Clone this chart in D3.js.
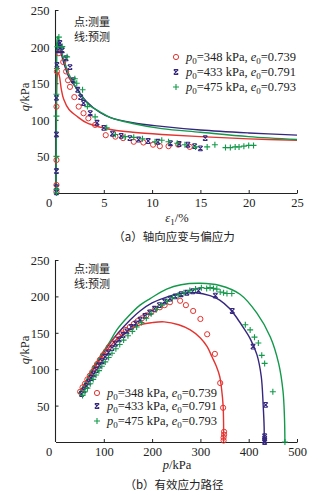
<!DOCTYPE html>
<html>
<head>
<meta charset="utf-8">
<script src="https://cdn.jsdelivr.net/npm/d3@7"></script>
<style>
  body { margin: 0; background: #fff; }
  text { font-family: "Liberation Serif", "DejaVu Serif", serif; }
  .cjk { font-family: "Noto Sans CJK SC", sans-serif; }
</style>
</head>
<body>
<script>
// series names / legend
const seriesKeys = ['s348', 's433', 's475'];
const p0Labels = ['348', '433', '475'];
const e0Labels = ['0.739', '0.791', '0.793'];
const colors = { s348: '#e5332f', s433: '#35267e', s475: '#12994a' };

// (a) axial strain eps1 (%) vs deviator stress q (kPa) -- predicted curves
const predA348 = [[0.05,0],[0.08,60],[0.1,120],[0.15,155],[0.25,165],[0.4,160],[0.6,142],[0.85,128],[1.4,114],[2.3,104],[3.2,96],[4.6,90],[6,86],[8,83],[11,80],[15,77],[20,74],[25,72]];
const predA433 = [[0.05,0],[0.08,80],[0.1,160],[0.15,200],[0.25,206],[0.5,195],[0.85,178],[1.4,158],[2.3,141],[3.2,125],[4.6,110],[5.7,103],[8,96],[11,91],[15,86],[20,82],[25,79]];
const predA475 = [[0.05,0],[0.08,80],[0.1,165],[0.15,208],[0.25,214],[0.5,200],[0.85,183],[1.4,162],[2.6,134],[3.5,120],[4.6,111],[5.7,103],[8,95],[11,88],[15,83],[20,77],[25,73]];

// (a) measured
const measA348 = [[0.1,2],[0.1,11],[0.1,45],[0.1,118],[0.15,166],[0.35,191],[0.8,179],[1.1,166],[1.3,154],[1.5,145],[1.95,131],[2.4,118],[2.9,109],[3.4,102],[4.1,93],[5.2,79],[6.2,77],[7.0,75],[8.1,70],[9.1,69],[10.1,66],[10.8,64],[11.7,64],[12.7,66],[13.9,63]];
const measA433 = [[0.1,1],[0.1,8],[0.1,30],[0.1,80],[0.1,130],[0.15,175],[0.25,195],[0.45,205],[0.7,195],[1.1,184],[1.5,172],[1.85,154],[2.3,141],[2.6,131],[2.9,123],[3.6,109],[4.3,96],[5.0,89],[5.9,81],[6.8,78],[7.7,75],[8.6,73],[9.6,71],[10.6,70],[11.9,68],[12.8,67],[13.7,66],[14.4,64],[15.0,61],[15.5,75]];
const measA475 = [[0.1,0],[0.1,5],[0.1,50],[0.1,105],[0.1,135],[0.15,170],[0.2,200],[0.35,213],[0.7,200],[1.2,186],[2.0,156],[2.2,150],[2.8,141],[3.3,118],[4.1,104],[5.3,89],[6.2,80],[7.2,77],[8.1,76],[9.0,74],[10.3,70],[11.0,72],[11.7,70],[12.6,68],[13.4,66],[14.5,63],[15.7,63],[16.5,66],[17.6,62],[18.1,62],[18.6,63],[19.0,63],[19.5,64],[20.0,65],[20.5,65]];

// (b) effective stress path p (kPa) vs q (kPa) -- predicted curves
const predB348 = [[48,66],[60,78],[70,90],[85,106],[100,120],[115,133],[130,143],[154,154],[175,161],[200,164],[225,165],[255,161],[279,154],[300,143],[314,131],[324,117],[333,104],[340,90],[344,72],[347,50],[348,25],[348,0]];
const predB433 = [[48,66],[60,79],[75,97],[90,113],[110,133],[130,150],[155,168],[175,180],[200,191],[230,199],[260,204],[290,205],[320,201],[340,195],[361,183],[376,170],[390,156],[403,142],[417,120],[426,90],[430,50],[432,20],[432,0]];
const predB475 = [[48,66],[60,80],[75,99],[92,117],[110,135],[127,154],[150,172],[175,188],[196,197],[230,210],[260,216],[300,218],[340,215],[382,203],[417,177],[445,144],[462,108],[471,70],[474,35],[475,0]];

// (b) measured
const measB348 = [[51,69],[56,75],[61,80],[66,86],[71,91],[76,96],[81,102],[86,107],[92,113],[98,119],[104,124],[110,130],[117,135],[124,140],[131,145],[138,149],[146,154],[154,158],[162,162],[170,166],[179,170],[188,174],[197,178],[206,182],[216,185],[226,188],[237,192],[258,194],[270,188],[285,180],[300,169],[314,148],[330,121],[341,81],[347,47],[349,14],[349,10],[348,6],[348,2]];
const measB433 = [[54,66],[59,71],[64,77],[69,82],[74,88],[79,93],[85,99],[91,105],[97,111],[103,117],[110,123],[117,129],[124,135],[132,141],[140,147],[148,152],[157,158],[166,163],[175,168],[185,173],[195,178],[205,183],[215,188],[226,193],[237,197],[248,200],[260,203],[272,205],[284,207],[296,208],[331,201],[366,180],[409,131],[435,51],[433,8],[433,5],[433,2],[433,0]];
const measB475 = [[56,64],[61,69],[66,74],[72,80],[78,86],[84,92],[90,98],[96,104],[103,110],[110,116],[117,122],[125,128],[133,134],[141,140],[150,146],[159,152],[168,158],[178,164],[188,170],[198,176],[209,182],[220,188],[231,193],[242,198],[254,202],[266,205],[278,208],[290,210],[302,212],[313,211],[320,212],[327,211],[334,210],[341,206],[348,205],[355,204],[365,204],[393,161],[403,154],[412,144],[420,136],[427,119],[433,108],[450,69],[475,0]];

// tick values
const qTicks = [50, 100, 150, 200, 250];
const epsTicks = [0, 5, 10, 15, 20, 25];
const pTicks = [0, 100, 200, 300, 400, 500];

const W = 333, H = 494;
const svg = d3.select('body').append('svg')
  .attr('width', W).attr('height', H)
  .style('background', '#fff');

// marker shapes
function drawMarker(g, key, x, y) {
  const c = colors[key];
  if (key === 's348') {
    g.append('circle').attr('cx', x).attr('cy', y).attr('r', 2.6)
      .attr('fill', 'none').attr('stroke', c).attr('stroke-width', 1);
  } else if (key === 's433') {
    g.append('path')
      .attr('d', `M${x-2.3},${y-2.3}L${x+2.3},${y+2.3}M${x+2.3},${y-2.3}L${x-2.3},${y+2.3}M${x-2},${y-2.4}H${x+2}M${x-2},${y+2.4}H${x+2}`)
      .attr('fill', 'none').attr('stroke', c).attr('stroke-width', 1.1);
  } else {
    g.append('path')
      .attr('d', `M${x-3},${y}H${x+3}M${x},${y-3}V${y+3}`)
      .attr('fill', 'none').attr('stroke', c).attr('stroke-width', 1.1);
  }
}

function panel(opts) {
  const x = d3.scaleLinear().domain(opts.xDomain).range([55.5, 297]);
  const y = d3.scaleLinear().domain([0, 250]).range(opts.yRange);
  const g = svg.append('g');

  // axes, ticks pointing inward
  const xAxis = d3.axisBottom(x).tickValues(opts.xTicks).tickSizeInner(-3).tickSizeOuter(0).tickPadding(5);
  const yAxis = d3.axisLeft(y).tickValues(qTicks).tickSizeInner(-3).tickSizeOuter(0).tickPadding(6);

  const gx = g.append('g').attr('transform', `translate(0,${opts.yRange[0]})`).call(xAxis);
  const gy = g.append('g').attr('transform', 'translate(55.5,0)').call(yAxis);
  [gx, gy].forEach(a => {
    a.select('.domain').attr('stroke', '#222').attr('stroke-width', 1.1);
    a.selectAll('.tick line').attr('stroke', '#222').attr('stroke-width', 1);
    a.selectAll('.tick text').attr('fill', '#222').style('font-size', '12.5px')
      .style('font-family', '"Liberation Serif", serif');
  });
  gy.select('.domain').attr('d', `M0,${y(0)}V${y(250)}`);
  gy.selectAll('.tick text').attr('dy', '0.36em');
  // zero label sits left of the corner, no tick there
  gx.selectAll('.tick').filter(d => d === 0).select('line').remove();
  gx.selectAll('.tick').filter(d => d === 0).select('text').attr('dx', -7);

  // predicted lines
  const line = d3.line().x(d => x(d[0])).y(d => y(d[1])).curve(d3.curveCatmullRom.alpha(0.5));
  opts.pred.forEach((s, i) => {
    g.append('path').datum(s).attr('d', line)
      .attr('fill', 'none').attr('stroke', colors[seriesKeys[i]]).attr('stroke-width', 1.4);
  });

  // measured points
  opts.meas.forEach((s, i) => {
    const mg = g.append('g');
    s.forEach(d => drawMarker(mg, seriesKeys[i], x(d[0]), y(d[1])));
  });

  // note text
  g.append('text').attr('class', 'cjk').attr('x', 74).attr('y', opts.noteY)
    .style('font-size', '11px').attr('fill', '#222').text('点:测量');
  g.append('text').attr('class', 'cjk').attr('x', 74).attr('y', opts.noteY + 15)
    .style('font-size', '11px').attr('fill', '#222').text('线:预测');

  // legend
  seriesKeys.forEach((k, i) => {
    const ly = opts.legY[i];
    drawMarker(g, k, opts.legX, ly);
    const t = g.append('text').attr('x', opts.legX + 10).attr('y', ly + 4)
      .attr('fill', '#222').style('font-size', '12.5px');
    t.append('tspan').style('font-style', 'italic').text('p');
    t.append('tspan').attr('dy', 3).style('font-size', '9px').text('0');
    t.append('tspan').attr('dy', -3).text(`=${p0Labels[i]} kPa, `);
    t.append('tspan').style('font-style', 'italic').text('e');
    t.append('tspan').attr('dy', 3).style('font-size', '9px').text('0');
    t.append('tspan').attr('dy', -3).text(`=${e0Labels[i]}`);
  });

  // y label
  const yl = g.append('text')
    .attr('transform', `translate(29,${opts.yLabelY}) rotate(-90)`)
    .attr('text-anchor', 'middle').attr('fill', '#222').style('font-size', '12.5px');
  yl.append('tspan').style('font-style', 'italic').text('q');
  yl.append('tspan').text('/kPa');

  // x label
  const xl = g.append('text').attr('x', 177).attr('y', opts.xLabelY)
    .attr('text-anchor', 'middle').attr('fill', '#222').style('font-size', '12.5px');
  opts.xLabel(xl);

  // caption
  g.append('text').attr('class', 'cjk').attr('x', 174).attr('y', opts.capY)
    .attr('text-anchor', 'middle').attr('fill', '#222').style('font-size', '11.5px')
    .text(opts.caption);
}

panel({
  xDomain: [0, 25], yRange: [193, 10], xTicks: epsTicks,
  pred: [predA348, predA433, predA475],
  meas: [measA348, measA433, measA475],
  noteY: 26, legX: 176, legY: [57, 72, 87],
  yLabelY: 97, xLabelY: 222,
  xLabel: t => {
    t.append('tspan').style('font-style', 'italic').text('ε');
    t.append('tspan').attr('dy', 3).style('font-size', '9px').text('1');
    t.append('tspan').attr('dy', -3).text('/%');
  },
  capY: 241, caption: '（a）轴向应变与偏应力'
});

panel({
  xDomain: [0, 500], yRange: [442, 260], xTicks: pTicks,
  pred: [predB348, predB433, predB475],
  meas: [measB348, measB433, measB475],
  noteY: 273, legX: 97, legY: [393, 406, 421],
  yLabelY: 350, xLabelY: 469,
  xLabel: t => {
    t.append('tspan').style('font-style', 'italic').text('p');
    t.append('tspan').text('/kPa');
  },
  capY: 489, caption: '（b）有效应力路径'
});
</script>
</body>
</html>
